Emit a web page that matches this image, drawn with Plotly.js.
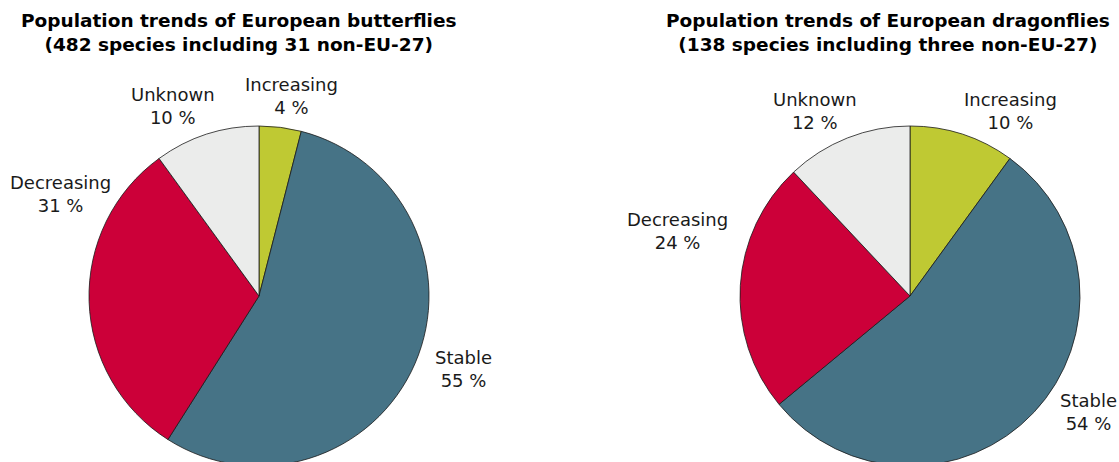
<!DOCTYPE html>
<html>
<head>
<meta charset="utf-8">
<script src="https://cdn.plot.ly/plotly-3.0.1.min.js"></script>
<style>
  html, body { margin: 0; padding: 0; overflow: hidden; background: #fff; }
  #chart { width: 1119px; height: 480px; }
</style>
</head>
<body>
<div id="chart"></div>
<script>
// Trend categories shared by both pies
const categories = ['Increasing', 'Stable', 'Decreasing', 'Unknown'];

// Share of species per trend, in percent
const butterflyValues = [4, 55, 31, 10];
const dragonflyValues = [10, 54, 24, 12];

const butterflyTitle = 'Population trends of European butterflies<br>(482 species including 31 non-EU-27)';
const dragonflyTitle = 'Population trends of European dragonflies<br>(138 species including three non-EU-27)';

const sliceColors = ['#bfc933', '#467386', '#cc0039', '#ebeceb'];

const W = 1119, H = 480;
const px = x => x / W;
const py = y => 1 - y / H;

// Pie boxes (pixel centre and radius), title and label anchors
const pies = [
  { values: butterflyValues, cx: 259, cy: 296, r: 170, title: butterflyTitle, tx: 239, ty: 33,
    labelPos: [[291, 96], [463, 369], [60, 194], [173, 106]] },
  { values: dragonflyValues, cx: 910, cy: 296, r: 170, title: dragonflyTitle, tx: 888, ty: 33,
    labelPos: [[1010, 111], [1088, 412], [677, 231], [815, 111]] }
];

const FONT = '"DejaVu Sans", Verdana, sans-serif';

const traces = pies.map(p => ({
  type: 'pie',
  labels: categories,
  values: p.values,
  sort: false,
  direction: 'clockwise',
  rotation: 0,
  textinfo: 'none',
  hoverinfo: 'label+percent',
  showlegend: false,
  marker: { colors: sliceColors, line: { color: '#1a1a1a', width: 0.8 } },
  domain: {
    x: [px(p.cx - p.r), px(p.cx + p.r)],
    y: [py(p.cy + p.r), py(p.cy - p.r)]
  }
}));

const annotations = [];
pies.forEach(p => {
  annotations.push({
    xref: 'paper', yref: 'paper', x: px(p.tx), y: py(p.ty),
    xanchor: 'center', yanchor: 'middle', showarrow: false,
    text: '<b>' + p.title.replace('<br>', '</b><br><b>') + '</b>',
    font: { family: FONT, size: 18.5, color: '#000' }
  });
  categories.forEach((c, i) => {
    annotations.push({
      xref: 'paper', yref: 'paper', x: px(p.labelPos[i][0]), y: py(p.labelPos[i][1]),
      xanchor: 'center', yanchor: 'middle', showarrow: false,
      text: c + '<br>' + p.values[i] + ' %',
      font: { family: FONT, size: 18, color: '#1a1a1a' }
    });
  });
});

Plotly.newPlot('chart', traces, {
  width: W, height: H,
  margin: { l: 0, r: 0, t: 0, b: 0 },
  paper_bgcolor: '#fff',
  annotations: annotations
}, { displayModeBar: false, staticPlot: true });
</script>
</body>
</html>
